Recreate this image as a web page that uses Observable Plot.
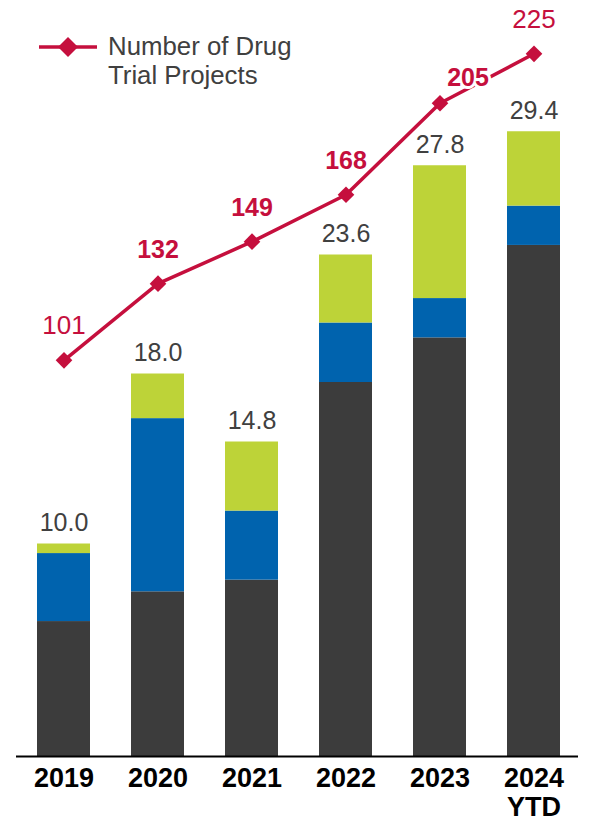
<!DOCTYPE html>
<html>
<head>
<meta charset="utf-8">
<script src="https://cdn.jsdelivr.net/npm/d3@7"></script>
<script src="https://cdn.jsdelivr.net/npm/@observablehq/plot@0.6"></script>
<style>
  html, body { margin: 0; padding: 0; background: #fff; }
  #wrap { position: relative; width: 593px; height: 821px; font-family: "Liberation Sans", Arial, sans-serif; }
  #wrap svg { position: absolute; left: 0; top: 0; }
  #legend { position: absolute; left: 38px; top: 32px; display: flex; align-items: flex-start; }
  #legend .txt { font-size: 25.8px; line-height: 29px; color: #404040; margin-left: 10px; margin-top: 0px; }
</style>
</head>
<body>
<div id="wrap">
  <div id="bars"></div>
  <div id="line"></div>
  <div id="legend">
    <svg width="60" height="30" style="position:static"><line x1="1" y1="15" x2="59" y2="15" stroke="#c50f3d" stroke-width="3.5"/><path d="M30,5 L40,15 L30,25 L20,15 Z" fill="#c50f3d"/></svg>
    <div class="txt">Number of Drug<br>Trial Projects</div>
  </div>
</div>
<script>
const categories = ["2019", "2020", "2021", "2022", "2023", "2024\nYTD"];
const darkValues  = [6.35, 7.75, 8.3, 17.6, 19.7, 24.05];
const blueValues  = [3.2, 8.15, 3.25, 2.8, 1.85, 1.85];
const greenValues = [0.45, 2.1, 3.25, 3.2, 6.25, 3.5];
const totals      = [10.0, 18.0, 14.8, 23.6, 27.8, 29.4];
const trialProjects = [101, 132, 149, 168, 205, 225];
const boldLabel     = [false, true, true, true, true, false];

const seriesNames = ["Dark", "Blue", "Green"];
const seriesColors = ["#3c3c3c", "#0063ae", "#bdd338"];
const lineColor = "#c50f3d";
const font = "Liberation Sans, Arial, sans-serif";

const stacked = [];
categories.forEach((c, i) => {
  stacked.push({cat: c, series: "Dark", value: darkValues[i]});
  stacked.push({cat: c, series: "Blue", value: blueValues[i]});
  stacked.push({cat: c, series: "Green", value: greenValues[i]});
});
const totalRows = categories.map((c, i) => ({cat: c, total: totals[i]}));
const lineRows = categories.map((c, i) => ({cat: c, n: trialProjects[i], bold: boldLabel[i], idx: i}));

const xScale = {type: "band", domain: categories, range: [16.5, 580.5], paddingInner: 0.44, paddingOuter: 0.22};

const bars = Plot.plot({
  width: 593, height: 821,
  marginTop: 0, marginBottom: 65, marginLeft: 16, marginRight: 15,
  style: {fontFamily: font, background: "transparent"},
  x: {...xScale, label: null},
  y: {domain: [0, 756 / 21.25], range: [756, 0], axis: null},
  color: {domain: seriesNames, range: seriesColors},
  marks: [
    Plot.barY(stacked, {x: "cat", y: "value", fill: "series", order: seriesNames}),
    Plot.ruleY([0], {stroke: "black", strokeWidth: 2}),
    Plot.text(totalRows, {x: "cat", y: "total", text: d => d.total.toFixed(1), lineAnchor: "bottom", dy: -13, fontSize: 25, fill: "#404040"}),
    Plot.axisX({tickSize: 0, tickPadding: 11, fontSize: 27, fontWeight: "bold", fill: "black", lineHeight: 1.04, label: null})
  ]
});
document.getElementById("bars").appendChild(bars);

const halo = {stroke: "white", strokeWidth: 6, paintOrder: "stroke"};
const boldRows = lineRows.filter(d => d.bold && d.idx !== 4);
const normalRows = lineRows.filter(d => !d.bold);
const shiftedRows = lineRows.filter(d => d.idx === 4);
const lineChart = Plot.plot({
  width: 593, height: 821,
  marginTop: 0, marginBottom: 65, marginLeft: 16, marginRight: 15,
  style: {fontFamily: font, background: "transparent"},
  x: {...xScale, axis: null},
  y: {domain: [0, 609.5 / 2.472], range: [609.5, 0], axis: null},
  marks: [
    Plot.line(lineRows, {x: "cat", y: "n", stroke: lineColor, strokeWidth: 3.5}),
    Plot.dot(lineRows, {x: "cat", y: "n", symbol: "diamond2", r: 7.5, fill: lineColor}),
    Plot.text(normalRows, {x: "cat", y: "n", text: d => String(d.n), lineAnchor: "bottom", dy: -26, fontSize: 26, fontWeight: "normal", fill: lineColor, ...halo}),
    Plot.text(boldRows, {x: "cat", y: "n", text: d => String(d.n), lineAnchor: "bottom", dy: -26, fontSize: 25, fontWeight: "bold", fill: lineColor, ...halo}),
    Plot.text(shiftedRows, {x: "cat", y: "n", text: d => String(d.n), lineAnchor: "bottom", dy: -17, dx: 28, fontSize: 25, fontWeight: "bold", fill: lineColor, ...halo})
  ]
});
document.getElementById("line").appendChild(lineChart);
</script>
</body>
</html>
